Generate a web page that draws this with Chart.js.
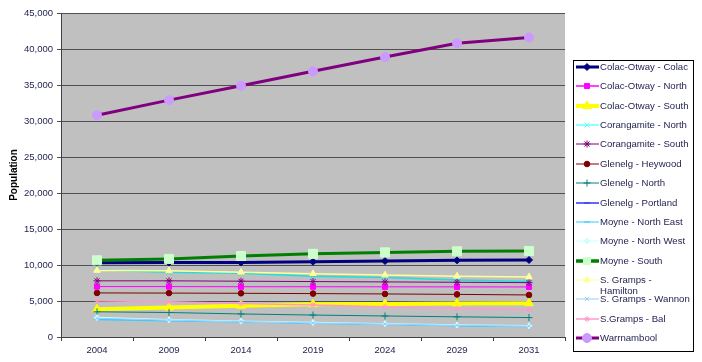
<!DOCTYPE html>
<html><head><meta charset="utf-8">
<script src="https://cdn.jsdelivr.net/npm/chart.js"></script>
<style>html,body{margin:0;padding:0;background:#fff;}canvas{display:block;}</style>
</head><body>
<canvas id="c" width="702" height="362"></canvas>
<script>
// ---- data ----
const years = ['2004','2009','2014','2019','2024','2029','2031'];
const colacOtwayColac  = [10300,10350,10350,10450,10550,10650,10700];
const colacOtwayNorth  = [7000,7000,6980,6980,6970,6960,6950];
const colacOtwaySouth  = [3850,4100,4350,4550,4600,4650,4700];
const corangamiteNorth = [9300,9000,8850,8450,8250,7900,7700];
const corangamiteSouth = [7800,7800,7750,7700,7650,7600,7550];
const glenelgHeywood   = [6120,6100,6070,6030,5980,5920,5840];
const glenelgNorth     = [3500,3400,3200,3050,2920,2800,2700];
const glenelgPortland  = [10250,10300,10300,10400,10500,10600,10650];
const moyneNorthEast   = [2450,2300,2150,1950,1800,1600,1480];
const moyneNorthWest   = [2700,2400,2200,2000,1850,1650,1550];
const moyneSouth       = [10650,10850,11250,11550,11750,11900,11950];
const sGrampsHamilton  = [9250,9200,9000,8800,8600,8450,8350];
const sGrampsWannon    = [2600,2350,2150,1950,1800,1620,1520];
const sGrampsBal       = [5050,4900,4650,4450,4200,3950,3800];
const warrnambool      = [30800,32900,34900,36900,38900,40800,41600];
const seriesNames = ['Colac-Otway - Colac','Colac-Otway - North','Colac-Otway - South','Corangamite - North','Corangamite - South','Glenelg - Heywood','Glenelg - North','Glenelg - Portland','Moyne - North East','Moyne - North West','Moyne - South','S. Gramps - Hamilton','S. Gramps - Wannon','S.Gramps - Bal','Warrnambool'];
const seriesValues = [colacOtwayColac,colacOtwayNorth,colacOtwaySouth,corangamiteNorth,corangamiteSouth,glenelgHeywood,glenelgNorth,glenelgPortland,moyneNorthEast,moyneNorthWest,moyneSouth,sGrampsHamilton,sGrampsWannon,sGrampsBal,warrnambool];

// ---- styles ----
const styles = [
  {line:'#000080', w:3,   marker:'rectRot',  r:3.5, fill:'#000080', lw:3},
  {line:'#FF00FF', w:1,   marker:'rect',     r:3.6, fill:'#FF00FF', lw:1.5},
  {line:'#FFFF00', w:4,   marker:'triangle', r:5,   fill:'#FFFF00', lw:4},
  {line:'#22DDDD', w:1.5, marker:'crossRot', r:3.5, fill:'#22DDDD', lw:1.5, leg:'#66FFFF'},
  {line:'#800080', w:1,   marker:'star',     r:3.5, fill:'#800080', lw:1},
  {line:'#800000', w:1,   marker:'circle',   r:2.8, fill:'#800000', lw:1},
  {line:'#008080', w:1,   marker:'cross',    r:3.5, fill:'#008080', lw:1},
  {line:'#3333FF', w:1,   marker:'line',     r:3,   fill:'#3333FF', lw:1.5, order:100},
  {line:'#33CCFF', w:2,   marker:'line',     r:3,   fill:'#33CCFF', lw:1},
  {line:'#CCFFFF', w:1.5, marker:'rectRot',  r:3,   fill:'#CCFFFF', lw:1},
  {line:'#008000', w:3,   marker:'rect',     r:6.4, fill:'#CCFFCC', lw:3.5},
  {line:'#FFFF99', w:1.5, marker:'triangle', r:3.8, fill:'#FFFF99', lw:1},
  {line:'#99CCFF', w:1,   marker:'crossRot', r:3,   fill:'#99CCFF', lw:1},
  {line:'#FF99CC', w:1.5, marker:'star',     r:3,   fill:'#FF99CC', lw:1.5},
  {line:'#800080', w:3,   marker:'circle',   r:4.5, fill:'#CC99FF', lw:3}
];
const textColor = '#1e1e4e';
const fontFamily = '"Liberation Sans", Arial, sans-serif';

const N = seriesNames.length;
const datasets = seriesNames.map((name, i) => {
  const s = styles[i];
  return {
    label: name,
    data: seriesValues[i],
    borderColor: s.line,
    borderWidth: s.w,
    backgroundColor: s.fill,
    pointStyle: s.marker,
    pointRadius: s.r,
    pointBackgroundColor: s.fill,
    pointBorderColor: s.fill,
    pointBorderWidth: 1,
    tension: 0,
    fill: false,
    order: s.order !== undefined ? s.order : (N - 1 - i)
  };
});

const bgPlugin = {
  id: 'bg',
  beforeDraw(chart) {
    const {ctx, chartArea: a} = chart;
    ctx.save();
    ctx.fillStyle = '#fff';
    ctx.fillRect(0, 0, chart.width, chart.height);
    ctx.fillStyle = '#C0C0C0';
    ctx.fillRect(a.left, a.top, a.right - a.left, a.bottom - a.top);
    ctx.restore();
  }
};

const legendPlugin = {
  id: 'excelLegend',
  afterDraw(chart) {
    const ctx = chart.ctx;
    ctx.save();
    ctx.fillStyle = '#fff';
    ctx.fillRect(573, 60, 120, 291);
    ctx.strokeStyle = '#000';
    ctx.lineWidth = 1;
    ctx.strokeRect(573.5, 60.5, 120, 291);
    seriesNames.forEach((name, i) => {
      const s = styles[i];
      const y = Math.round(67 + i * 19.36);
      const col = s.leg || s.line;
      ctx.strokeStyle = col;
      ctx.lineWidth = s.lw;
      ctx.beginPath();
      ctx.moveTo(576, y);
      ctx.lineTo(599, y);
      ctx.stroke();
      ctx.fillStyle = s.leg || s.fill;
      ctx.strokeStyle = s.leg || s.fill;
      ctx.lineWidth = 1;
      if (Chart.helpers && Chart.helpers.drawPoint) {
        Chart.helpers.drawPoint(ctx, {pointStyle: s.marker, radius: Math.min(s.r, 5), borderWidth: 1, rotation: 0}, 587, y);
      }
      ctx.fillStyle = textColor;
      ctx.font = '9.6px ' + fontFamily;
      ctx.textBaseline = 'middle';
      ctx.textAlign = 'left';
      if (name === 'S. Gramps - Hamilton') {
        ctx.fillText('S. Gramps -', 600, y);
        ctx.fillText('Hamilton', 600, y + 11);
      } else {
        ctx.fillText(name, 600, y);
      }
    });
    ctx.restore();
  }
};

new Chart(document.getElementById('c'), {
  type: 'line',
  data: { labels: years, datasets },
  options: {
    responsive: false,
    animation: false,
    devicePixelRatio: 1,
    locale: 'en-US',
    layout: { padding: { left: 0, right: 137, top: 13, bottom: 0 } },
    plugins: { legend: { display: false }, tooltip: { enabled: false } },
    scales: {
      x: {
        offset: true,
        grid: { offset: true, drawOnChartArea: false, drawTicks: true, tickLength: 4, color: '#404040' },
        border: { display: true, color: '#404040', width: 1 },
        ticks: { color: textColor, font: { size: 9.5, family: fontFamily }, padding: 4, maxRotation: 0, autoSkip: false },
        afterFit(s) { s.height = 25; }
      },
      y: {
        min: 0, max: 45000,
        ticks: { stepSize: 5000, color: textColor, font: { size: 9.5, family: fontFamily }, padding: 4 },
        grid: { color: '#505050', lineWidth: 1, tickLength: 4 },
        border: { display: true, color: '#404040', width: 1 },
        title: { display: true, text: 'Population', color: '#000', font: { size: 10, weight: 'bold', family: fontFamily }, padding: { top: 8, bottom: 0 } },
        afterFit(s) { s.width = 61; }
      }
    }
  },
  plugins: [bgPlugin, legendPlugin]
});
</script>
</body></html>
